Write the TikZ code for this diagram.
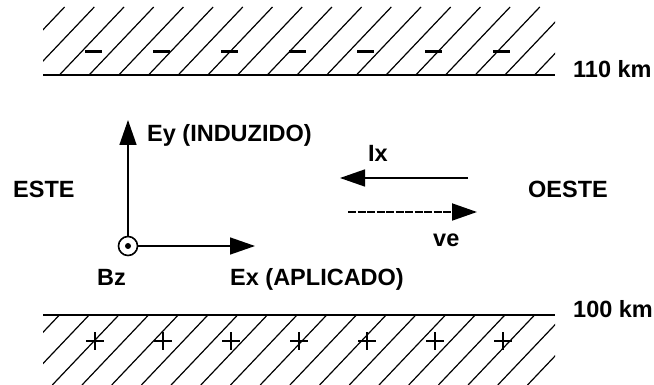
\documentclass[tikz,border=0pt]{standalone}
\usepackage{fontspec}
\setmainfont{Liberation Sans}
\usetikzlibrary{arrows.meta}
\tikzset{ >={Triangle[length=25pt,width=17pt]} }
\def\bandL{43}			% left end of both layers
\def\bandR{555}			% right end of both layers
\def\hatchStep{29.7}	% distance between hatch lines
\def\hatchSlope{0.95}	% dx/dy of the hatch lines
\def\chargeStep{68}		% distance between charge signs
\newcommand\DrawLayer[3]{% #1 upper edge, #2 lower edge, #3 height of the km line
	\begin{scope}
		\clip (\bandL,#1) rectangle (\bandR,#2);
		\pgfmathsetmacro\hatchDx{\hatchSlope*(#2-#1)}
		\pgfmathsetmacro\hatchShift{\hatchSlope*(#2-#3)}
		\foreach \k in {-3,...,20} {
			\pgfmathsetmacro\hatchX{\k*\hatchStep-\hatchShift}
			\draw[hatch] (\hatchX,#2) -- ++(\hatchDx,#1-#2);
		}
	\end{scope}
	\draw[kmline] (\bandL,#3) -- (\bandR,#3);
}

\begin{document}
\begin{tikzpicture}[x=1pt, y=-1pt,
	hatch/.style={line width=1.2pt},
	kmline/.style={line width=2.6pt},
	vec/.style={->, line width=1.5pt},
	lbl/.style={font=\fontsize{23.5}{28}\selectfont\bfseries, inner sep=0pt, anchor=base west}]
	\useasboundingbox (0,0) rectangle (654,385);
	% Ionospheric layers
	\DrawLayer{7}{75}{75}							% 110 km layer
	\DrawLayer{315}{385}{315}						% 100 km layer
	% Charges
	\foreach \i in {0,...,6} {
		\pgfmathsetmacro\cx{93.5+\i*\chargeStep}
		\draw[line width=3pt] (\cx-8.5,52) -- (\cx+8.5,52);			% negative
		\pgfmathsetmacro\cx{95+\i*\chargeStep}
		\draw[line width=2pt] (\cx-9,341) -- (\cx+9,341) (\cx,332) -- (\cx,350); % positive
	}
	% Field axes
	\node[draw, circle, minimum size=19pt, inner sep=0pt, line width=1.6pt] (bz) at (128,246) {};
	\fill (bz.center) circle (3pt);					% Bz out of the page
	\coordinate (eyTip) at (128,120);
	\coordinate (exTip) at (255,246);
	\draw[vec] (bz) -- (eyTip);
	\draw[vec] (bz) -- (exTip);
	% Current and drift
	\coordinate (ixTail) at (468,178);
	\coordinate (ixTip)  at (340,178);
	\coordinate (veTail) at (348,212);
	\coordinate (veTip)  at (477,212);
	\draw[vec] (ixTail) -- (ixTip);
	\draw[vec, line width=1.9pt, dash pattern=on 8pt off 1.5pt] (veTail) -- (veTip);
	% Labels
	\node[lbl] (ey)    at (147,142) {Ey (INDUZIDO)};
	\node[lbl] (ex)    at (230,285) {Ex (APLICADO)};
	\node[lbl] (bzlbl) at (97,285)  {Bz};
	\node[lbl] (este)  at (13,198)  {ESTE};
	\node[lbl] (oeste) at (528,198) {OESTE};
	\node[lbl] (ix)    at (368,162) {Ix};
	\node[lbl] (ve)    at (433,247) {ve};
	\node[lbl] (km110) at (573,78)  {110 km};
	\node[lbl] (km100) at (573,317) {100 km};
\end{tikzpicture}
\end{document}
